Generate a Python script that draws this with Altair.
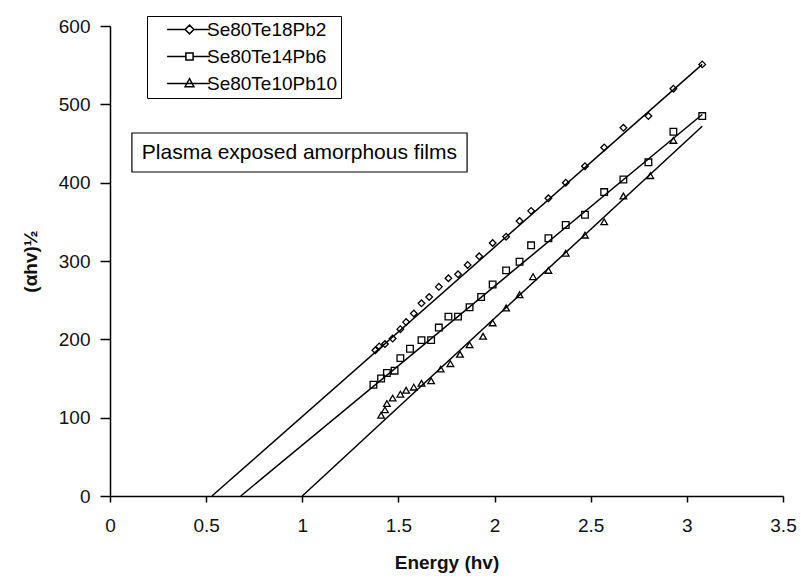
import altair as alt
import pandas as pd

# ---- data ----
names = ["Se80Te18Pb2", "Se80Te14Pb6", "Se80Te10Pb10"]

s1_x = [1.38, 1.40, 1.43, 1.47, 1.51, 1.54, 1.58, 1.62, 1.66, 1.71, 1.76, 1.81, 1.86, 1.92,
        1.99, 2.06, 2.13, 2.19, 2.28, 2.37, 2.47, 2.57, 2.67, 2.80, 2.93, 3.08]
s1_y = [186, 191, 194, 201, 213, 222, 233, 246, 254, 267, 278, 283, 295, 306,
        323, 331, 351, 364, 380, 400, 421, 445, 470, 485, 520, 551]

s2_x = [1.37, 1.41, 1.44, 1.48, 1.51, 1.56, 1.62, 1.67, 1.71, 1.76, 1.81, 1.87, 1.93,
        1.99, 2.06, 2.13, 2.19, 2.28, 2.37, 2.47, 2.57, 2.67, 2.80, 2.93, 3.08]
s2_y = [142, 150, 157, 160, 176, 188, 199, 199, 215, 229, 229, 241, 254,
        270, 288, 299, 320, 329, 346, 359, 388, 404, 426, 465, 485]

s3_x = [1.41, 1.43, 1.44, 1.47, 1.51, 1.54, 1.58, 1.62, 1.67, 1.72, 1.77, 1.82, 1.87,
        1.94, 1.99, 2.06, 2.13, 2.20, 2.28, 2.37, 2.47, 2.57, 2.67, 2.81, 2.93]
s3_y = [103, 110, 118, 125, 130, 135, 139, 144, 147, 162, 169, 181, 193,
        204, 221, 240, 257, 280, 288, 310, 333, 350, 383, 409, 454]

# fitted straight lines (endpoints)
fit_x0 = [0.53, 0.68, 1.00]
fit_x1 = [3.08, 3.08, 3.08]
fit_y1 = [551, 487, 472]

x_ticks = [0, 0.5, 1, 1.5, 2, 2.5, 3, 3.5]
y_ticks = [0, 100, 200, 300, 400, 500, 600]

note_text = "Plasma exposed amorphous films"

# ---- tables ----
pts = pd.concat([
    pd.DataFrame({"x": s1_x, "y": s1_y, "series": names[0]}),
    pd.DataFrame({"x": s2_x, "y": s2_y, "series": names[1]}),
    pd.DataFrame({"x": s3_x, "y": s3_y, "series": names[2]}),
], ignore_index=True)

fit_rows = []
for n, a, b, c in zip(names, fit_x0, fit_x1, fit_y1):
    fit_rows.append({"x": a, "y": 0, "series": n})
    fit_rows.append({"x": b, "y": c, "series": n})
fits = pd.DataFrame(fit_rows)

note = pd.DataFrame({"x": [0.114], "x2": [1.857], "y": [463.4], "y2": [413.6],
                     "tx": [0.985], "ty": [438.5], "label": [note_text]})

FONT = "Liberation Sans"

# legend glyphs: a short line with the marker in its middle (unit box -1..1)
P_DIA = "M-5.6,0L-1.1,0M1.1,0L5.1,0M0,-1.1L1.1,0L0,1.1L-1.1,0Z"
P_SQR = "M-5.6,0L-0.9,0M0.9,0L5.1,0M-0.9,-0.9L0.9,-0.9L0.9,0.9L-0.9,0.9Z"
P_TRI = "M-5.6,0L5.1,0M0,-1.2L1.1,0.8L-1.1,0.8Z"

xscale = alt.Scale(domain=[0, 3.5], nice=False, zero=False)
yscale = alt.Scale(domain=[0, 600], nice=False)

xaxis = alt.Axis(values=x_ticks, title="Energy (hv)", grid=False, labelFlush=False,
                 tickSize=6, labelPadding=14, titlePadding=18, format="~g")
yaxis = alt.Axis(values=y_ticks, title="(αhv)½", grid=False, tickSize=10,
                 labelPadding=10, titlePadding=18)

lines = alt.Chart(fits).mark_line(color="black", strokeWidth=1.5).encode(
    x=alt.X("x:Q", scale=xscale, axis=xaxis),
    y=alt.Y("y:Q", scale=yscale, axis=yaxis),
    detail="series:N",
)

points = alt.Chart(pts).mark_point(filled=False, size=44, strokeWidth=1.3, color="black",
                                   opacity=1).encode(
    x=alt.X("x:Q", scale=xscale),
    y=alt.Y("y:Q", scale=yscale),
    shape=alt.Shape("series:N",
                    scale=alt.Scale(domain=names, range=["diamond", "square", "triangle-up"]),
                    legend=None),
)

legend = alt.Legend(
    title=None, orient="none", legendX=37, legendY=-10,
    strokeColor="black", fillColor="white", padding=4,
    labelFont=FONT, labelFontSize=19, labelColor="black",
    symbolSize=64, symbolStrokeWidth=1.5, symbolFillColor="white",
    symbolStrokeColor="black", symbolOpacity=1,
    rowPadding=7, symbolOffset=29, labelOffset=8,
)

legend_layer = alt.Chart(pts).transform_filter("false").mark_point(
    filled=False, opacity=1, color="black"
).encode(
    x=alt.X("x:Q", scale=xscale),
    y=alt.Y("y:Q", scale=yscale),
    shape=alt.Shape("series:N", scale=alt.Scale(domain=names, range=[P_DIA, P_SQR, P_TRI]),
                    legend=legend),
)

box = alt.Chart(note).mark_rect(fill="white", stroke="black", strokeWidth=1.2).encode(
    x="x:Q", x2="x2:Q", y="y:Q", y2="y2:Q"
)
txt = alt.Chart(note).mark_text(font=FONT, fontSize=21, color="black").encode(
    x="tx:Q", y="ty:Q", text="label:N"
)

chart = alt.layer(lines, points, legend_layer, box, txt).resolve_scale(
    shape="independent"
).properties(
    width=673, height=470,
    padding={"left": 110, "top": 26, "right": 18, "bottom": 85},
    autosize=alt.AutoSizeParams(type="none"),
    background="white",
).configure_view(stroke=None).configure_axis(
    domainColor="black", domainWidth=1.5, tickColor="black", tickWidth=1.5,
    labelFont=FONT, labelFontSize=19, labelColor="#111",
    titleFont=FONT, titleFontSize=19, titleFontWeight="bold", titleColor="#111",
)

chart.save("out.html", embed_options={"renderer": "svg", "actions": False})
